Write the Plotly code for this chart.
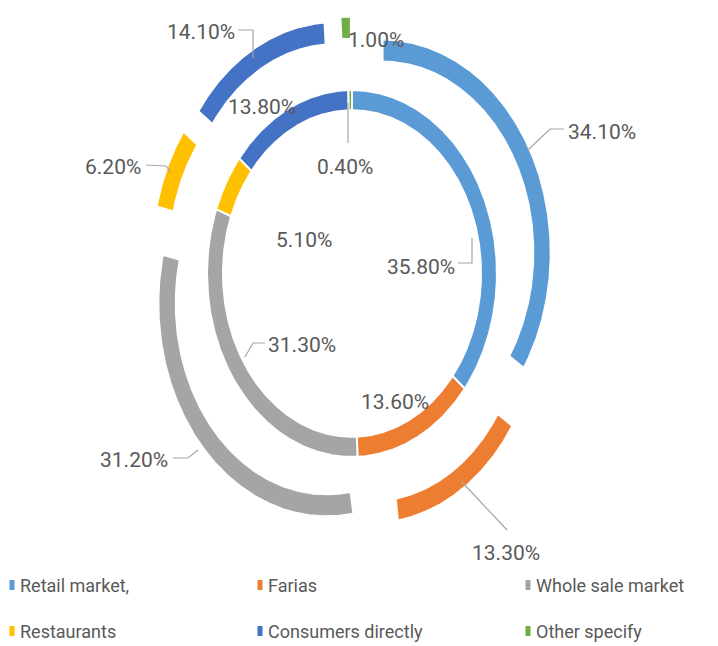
import numpy as np
import plotly.graph_objects as go

# Sales channel shares (%), inner ring and outer ring
categories = ["Retail market,", "Farias", "Whole sale market",
              "Restaurants", "Consumers directly", "Other specify"]
inner_values = [35.8, 13.6, 31.3, 5.1, 13.8, 0.4]
outer_values = [34.1, 13.3, 31.2, 6.2, 14.1, 1.0]
colors = ["#5B9BD5", "#ED7D31", "#A5A5A5", "#FFC000", "#4472C4", "#70AD47"]

# Canvas and ring geometry (pixels / ring units)
W, H = 718, 646
CX, CY = 352.0, 273.5        # ring centre in pixels
SX, SY = 145.0, 183.5        # pixels per ring unit (horizontal, vertical)
INNER_R = (0.89, 1.0)
OUTER_R = (1.04, 1.16)
OUTER_EXPLODE = 0.24

FONT = "Roboto, Arial, sans-serif"
TEXT_COLOR = "#595959"
LEADER_COLOR = "#A6A6A6"

# Label centres and leader polylines, in pixels
inner_label_px = [(421, 267), (395, 402), (302, 345), (304, 240), (262, 107), (345, 167)]
outer_label_px = [(602, 132), (506, 553), (134, 460), (113, 167), (201, 32), (376, 40)]
leaders_px = [
    [(528, 150), (550, 129), (564, 129)],
    [(462, 482), (507, 530)],
    [(173, 458), (188, 458), (198, 450)],
    [(146, 165), (166, 166), (171, 173)],
    [(238, 30), (253, 30), (253, 58)],
    [(458, 263), (472, 263), (472, 238)],
    [(265, 343), (253, 343), (245, 357)],
    [(348, 103), (348, 143)],
]
legend_rows_px = [585, 631]
legend_cols_px = [12, 260, 528]


def ux(px):
    return (px - CX) / SX


def uy(py):
    return (CY - py) / SY


def ring_traces(values, radii, explode):
    r_in, r_out = radii
    total = float(sum(values))
    cum = np.concatenate([[0.0], np.cumsum(values)]) / total * 2 * np.pi
    traces = []
    for i, v in enumerate(values):
        a0, a1 = cum[i], cum[i + 1]
        mid = 0.5 * (a0 + a1)
        dx, dy = explode * np.sin(mid), explode * np.cos(mid)
        t = np.linspace(a0, a1, max(6, int(240 * (a1 - a0))))
        xs = np.concatenate([r_out * np.sin(t), r_in * np.sin(t[::-1])]) + dx
        ys = np.concatenate([r_out * np.cos(t), r_in * np.cos(t[::-1])]) + dy
        xs = np.append(xs, xs[0])
        ys = np.append(ys, ys[0])
        traces.append(go.Scatter(
            x=xs, y=ys, mode="lines", fill="toself",
            fillcolor=colors[i], line=dict(color="white", width=2),
            name=categories[i], showlegend=False, hoverinfo="text",
            text=f"{categories[i]} {v:.2f}%"))
    return traces


fig = go.Figure()
for tr in ring_traces(inner_values, INNER_R, 0.0):
    fig.add_trace(tr)
for tr in ring_traces(outer_values, OUTER_R, OUTER_EXPLODE):
    fig.add_trace(tr)

# Leader lines
for pts in leaders_px:
    fig.add_trace(go.Scatter(
        x=[ux(p[0]) for p in pts], y=[uy(p[1]) for p in pts],
        mode="lines", line=dict(color=LEADER_COLOR, width=1.2),
        hoverinfo="skip", showlegend=False))

annotations = []
for vals, pos in ((inner_values, inner_label_px), (outer_values, outer_label_px)):
    for v, (px, py) in zip(vals, pos):
        annotations.append(dict(
            x=ux(px), y=uy(py), xref="x", yref="y", text=f"{v:.2f}%",
            showarrow=False, xanchor="center", yanchor="middle",
            font=dict(family=FONT, size=21, color=TEXT_COLOR)))

# Legend drawn as two rows of three entries
shapes = []
for k, name in enumerate(categories):
    row, col = divmod(k, 3)
    lx, ly = legend_cols_px[col], legend_rows_px[row]
    shapes.append(dict(
        type="rect", xref="paper", yref="paper",
        x0=(lx - 2.5) / W, x1=(lx + 2.5) / W,
        y0=1 - (ly + 5) / H, y1=1 - (ly - 5) / H,
        fillcolor=colors[k], line=dict(width=0)))
    annotations.append(dict(
        x=(lx + 6) / W, y=1 - ly / H, xref="paper", yref="paper",
        text=name, showarrow=False, xanchor="left", yanchor="middle",
        font=dict(family=FONT, size=18, color=TEXT_COLOR)))

fig.update_layout(
    width=W, height=H,
    margin=dict(l=0, r=0, t=0, b=0),
    paper_bgcolor="white", plot_bgcolor="white",
    xaxis=dict(range=[ux(0), ux(W)], visible=False, fixedrange=True),
    yaxis=dict(range=[uy(H), uy(0)], visible=False, fixedrange=True),
    annotations=annotations, shapes=shapes,
    showlegend=False,
)

fig.write_html("out.html")
